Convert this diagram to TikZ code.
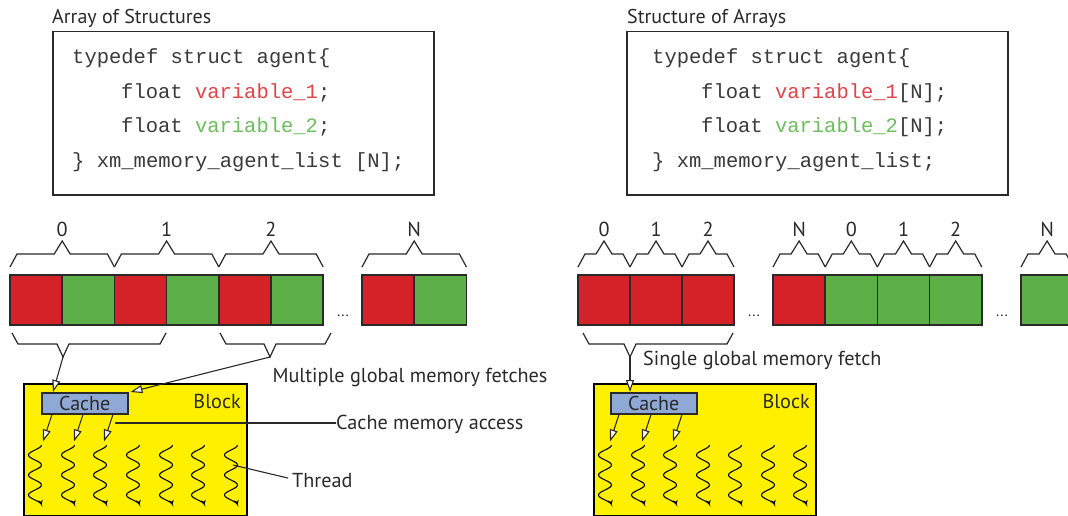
\documentclass[tikz,border=0pt]{standalone}
\usepackage{fontspec}
\setmainfont{PT Sans}
\newfontfamily\codefont{Liberation Mono}
\usetikzlibrary{arrows.meta,calc}
\definecolor{cellred}{HTML}{D52228}
\definecolor{cellgreen}{HTML}{5DAF47}
\definecolor{blockyellow}{HTML}{FFF000}
\definecolor{cacheblue}{HTML}{8EA9D6}
\definecolor{codered}{HTML}{E04449}
\definecolor{codegreen}{HTML}{6CBE5C}
\definecolor{codegray}{HTML}{3A3A3A}
\definecolor{edge}{HTML}{2A2A2A}
\newcommand\tbrace[3]{%
  \pgfmathsetmacro\tbmid{(#1+#2)/2}%
  \draw[brace] (#1,267) -- (#1+7,254) -- (\tbmid-8,254) -- (\tbmid,241) -- (\tbmid+8,254) -- (#2-7,254) -- (#2,267);
  \node[lbl] at (\tbmid,229) {#3};
}
\newcommand\bbrace[4]{%
  \draw[brace] (#1,333) -- (#1+6,344) -- (#3-6,344) -- (#3,357) -- (#3+6,344) -- (#2-6,344) -- (#2,333);
  \coordinate (#4) at (#3,357);
}
\begin{document}
\begin{tikzpicture}[x=1pt,y=-1pt,
  lbl/.style={font=\fontsize{20.2}{23}\selectfont, text=edge, inner sep=0},
  ttl/.style={font=\fontsize{20}{23}\selectfont, text=edge, inner sep=0, anchor=base west},
  codebox/.style={draw=edge, line width=1.5pt, fill=white, anchor=north west, minimum width=381pt, minimum height=163pt, inner sep=0},
  code/.style={font=\codefont\fontsize{20.5}{24}\selectfont, text=codegray, inner sep=0, anchor=base west},
  cell/.style={draw=edge, line width=1.6pt, minimum width=52.2pt, minimum height=50pt, anchor=north west, inner sep=0, outer sep=0},
  brace/.style={draw=edge, line width=1.2pt, line join=miter},
  blockbox/.style={draw=black, line width=2pt, fill=blockyellow, anchor=north west, minimum width=223pt, minimum height=132pt, inner sep=0},
  cachebox/.style={draw=edge, line width=1.5pt, fill=cacheblue, anchor=north west, minimum width=86pt, minimum height=21pt, inner sep=0, font=\fontsize{20}{22}\selectfont, text=edge},
  fetch/.style={draw=edge, line width=1.1pt, -{Triangle[length=12pt,width=8pt,fill=white]}},
  thread/.style={draw=black, line width=1.1pt, -{Stealth[length=5pt,width=4.5pt]}},
  leader/.style={draw=edge, line width=1.1pt},
  dots/.style={font=\fontsize{15}{15}\selectfont, text=edge, inner sep=0}
]
\clip (0,0) rectangle (1068,516);
\fill[white] (0,0) rectangle (1068,516);

% ---------- Left: Array of Structures ----------
\node[ttl] (titleL) at (52,24) {Array of Structures};
\node[codebox] (codeL) at (52,31) {};
\node[code] (cl1) at (72,64) {typedef struct agent\{};
\node[code] (cl2) at (121,98.5) {float \textcolor{codered}{variable\_1};};
\node[code] (cl3) at (121,133) {float \textcolor{codegreen}{variable\_2};};
\node[code] (cl4) at (72,167.5) {\} xm\_memory\_agent\_list [N];};

\foreach \i/\c in {0/cellred,1/cellgreen,2/cellred,3/cellgreen,4/cellred,5/cellgreen}
  \node[cell, fill=\c] (L\i) at ({10+\i*52.2},275) {};
\node[cell, fill=cellred] (LN1) at (362,275) {};
\node[cell, fill=cellgreen] (LN2) at (414.2,275) {};
\node[dots] (dotsL) at (343,316) {...};

\tbrace{10}{114.4}{0}
\tbrace{114.4}{218.8}{1}
\tbrace{218.8}{323.2}{2}
\tbrace{362}{466.4}{N}

\bbrace{12}{166}{63}{bL1}
\bbrace{220}{331}{270}{bL2}

\node[blockbox] (blockL) at (23,383) {};
\node[cachebox] (cacheL) at (41,392) {Cache};
\node[lbl, anchor=base east] (blkL) at (241,408) {Block};

\draw[fetch] (bL1) -- ($(cacheL.north west)+(12,0)$);
\draw[fetch] (bL2) -- ($(cacheL.north east)+(2,0)$);
\foreach \d in {11,42,72}
  \draw[fetch] ($(cacheL.south west)+(\d,0)$) -- ++(-9,27);

\foreach \cx in {35,68,100,133,166,198,231}
  \draw[thread] plot[variable=\t, smooth, domain=0:60, samples=61] ({\cx + 6.5*cos(\t*18)},{445+\t});

\node[lbl, anchor=center] (mgmf) at (410,377) {Multiple global memory fetches};
\node[lbl, anchor=west] (cma) at (336,424) {Cache memory access};
\coordinate (cmaStart) at (115,423);
\draw[leader] (cmaStart) -- (cmaStart -| cma.west) -- ++(-13,0);
\node[lbl, anchor=west] (thr) at (292,481) {Thread};
\coordinate (thrStart) at (233,465);
\draw[leader, shorten >=4pt] (thrStart) -- ($(thr.west)+(0,-2)$);

% ---------- Right: Structure of Arrays ----------
\node[ttl] (titleR) at (627,24) {Structure of Arrays};
\node[codebox] (codeR) at (626,31) {};
\node[code] (cr1) at (652,64) {typedef struct agent\{};
\node[code] (cr2) at (701,98.5) {float \textcolor{codered}{variable\_1}[N];};
\node[code] (cr3) at (701,133) {float \textcolor{codegreen}{variable\_2}[N];};
\node[code] (cr4) at (652,167.5) {\} xm\_memory\_agent\_list;};

\foreach \i in {0,1,2}
  \node[cell, fill=cellred] (R\i) at ({578+\i*52},275) {};
\node[cell, fill=cellred] (S0) at (773,275) {};
\foreach \i in {1,2,3}
  \node[cell, fill=cellgreen] (S\i) at ({773+\i*52.2},275) {};
\node[cell, fill=cellgreen] (T0) at (1021,275) {};
\node[dots] (dotsR1) at (754,316) {...};
\node[dots] (dotsR2) at (1002,316) {...};

\tbrace{578}{630}{0}
\tbrace{630}{682}{1}
\tbrace{682}{734}{2}
\tbrace{773}{825.2}{N}
\tbrace{825.2}{877.4}{0}
\tbrace{877.4}{929.6}{1}
\tbrace{929.6}{981.8}{2}
\tbrace{1021}{1073.2}{N}

\bbrace{583}{733}{630}{bR}

\node[blockbox, minimum width=222pt] (blockR) at (593,383) {};
\node[cachebox] (cacheR) at (610,392) {Cache};
\node[lbl, anchor=base east] (blkR) at (810,408) {Block};

\draw[fetch] (bR) -- (bR |- cacheR.north);
\foreach \d in {9,41,72}
  \draw[fetch] ($(cacheR.south west)+(\d,0)$) -- ++(-9,27);

\foreach \cx in {605,638,670,703,735,768,800}
  \draw[thread] plot[variable=\t, smooth, domain=0:60, samples=61] ({\cx + 6.5*cos(\t*18)},{445+\t});

\node[lbl, anchor=west] (sgmf) at (643,360) {Single global memory fetch};
\end{tikzpicture}
\end{document}
